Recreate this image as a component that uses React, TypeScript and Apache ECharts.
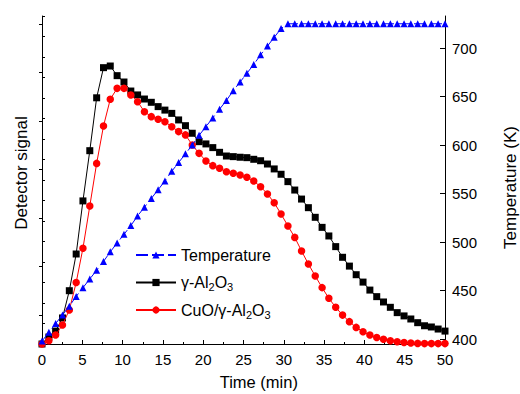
import React, { useEffect, useRef } from "react";
import * as echarts from "echarts";

const timeMin = [0, 0.85, 1.69, 2.54, 3.39, 4.24, 5.08, 5.93, 6.78, 7.63, 8.47, 9.32, 10.17, 11.02, 11.86, 12.71, 13.56, 14.41, 15.25, 16.1, 16.95, 17.8, 18.64, 19.49, 20.34, 21.19, 22.03, 22.88, 23.73, 24.58, 25.42, 26.27, 27.12, 27.97, 28.81, 29.66, 30.51, 31.36, 32.2, 33.05, 33.9, 34.75, 35.59, 36.44, 37.29, 38.14, 38.98, 39.83, 40.68, 41.53, 42.37, 43.22, 44.07, 44.92, 45.76, 46.61, 47.46, 48.31, 49.15, 50.0];

const alSignal = [0, 0.34, 0.63, 1.27, 2.6, 4.39, 6.98, 9.43, 12.01, 13.48, 13.56, 13.09, 12.78, 12.34, 12.15, 11.95, 11.79, 11.58, 11.41, 11.25, 10.93, 10.65, 10.28, 9.87, 9.76, 9.58, 9.35, 9.17, 9.14, 9.11, 9.09, 9.01, 8.94, 8.78, 8.54, 8.28, 7.92, 7.51, 7.07, 6.65, 6.18, 5.69, 5.27, 4.75, 4.23, 3.8, 3.38, 3.02, 2.63, 2.31, 2.05, 1.79, 1.53, 1.37, 1.22, 1.04, 0.89, 0.83, 0.73, 0.63];

const cuoSignal = [0, 0.16, 0.44, 0.93, 1.66, 3.0, 4.67, 6.73, 8.81, 10.63, 11.94, 12.47, 12.47, 12.15, 11.82, 11.33, 11.09, 10.96, 10.84, 10.6, 10.36, 10.2, 9.71, 9.3, 8.93, 8.7, 8.57, 8.4, 8.33, 8.24, 8.13, 7.95, 7.67, 7.32, 6.89, 6.34, 5.76, 5.2, 4.54, 3.9, 3.32, 2.75, 2.23, 1.79, 1.41, 1.09, 0.81, 0.6, 0.44, 0.32, 0.23, 0.16, 0.11, 0.07, 0.05, 0.03, 0.02, 0.02, 0.02, 0.02];

const temperatureK = [398, 407, 416, 425, 434, 444, 453, 462, 471, 480, 490, 499, 508, 517, 527, 536, 545, 554, 563, 573, 582, 591, 600, 610, 619, 628, 637, 646, 656, 665, 674, 683, 693, 702, 711, 720, 725, 725, 725, 725, 725, 725, 725, 725, 725, 725, 725, 725, 725, 725, 725, 725, 725, 725, 725, 725, 725, 725, 725, 725];

const seriesNames = ["Temperature", "γ-Al2O3", "CuO/γ-Al2O3"];
const tempMajorTicks = [400, 450, 500, 550, 600, 650, 700];
const tempMinorTicks = [425, 475, 525, 575, 625, 675, 725];

const FONT = "Liberation Sans, Arial, Helvetica, sans-serif";

const pairs = (vals: number[]) => timeMin.map((t, i) => [t, vals[i]]);

export default function App() {
  const ref = useRef<HTMLDivElement>(null);
  useEffect(() => {
    if (!ref.current) return;
    const chart = echarts.init(ref.current, null, { renderer: "svg" });
    const axisLine = { show: true, onZero: false, lineStyle: { color: "#000", width: 1 } };
    chart.setOption({
      animation: false,
      backgroundColor: "#fff",
      textStyle: { fontFamily: FONT },
      grid: { left: 42, right: 75, top: 16, bottom: 50, containLabel: false },
      legend: {
        orient: "vertical",
        left: 135,
        top: 245,
        padding: 0,
        itemWidth: 40,
        itemHeight: 9,
        itemGap: 7.5,
        data: seriesNames,
        formatter: (name: string) => {
          if (name === "γ-Al2O3") return "γ-Al{sub|2}O{sub|3}";
          if (name === "CuO/γ-Al2O3") return "CuO/γ-Al{sub|2}O{sub|3}";
          return name;
        },
        textStyle: {
          fontFamily: FONT,
          fontSize: 16,
          color: "#000",
          lineHeight: 20,
          rich: {
            sub: { fontFamily: FONT, fontSize: 11, color: "#000", verticalAlign: "bottom", lineHeight: 14 },
          },
        },
      },
      xAxis: {
        type: "value",
        min: 0,
        max: 50,
        interval: 5,
        axisLine,
        axisTick: { show: true, inside: true, length: 4, lineStyle: { color: "#000" } },
        minorTick: { show: true, splitNumber: 2, length: 2, lineStyle: { color: "#000" } },
        axisLabel: { color: "#000", fontSize: 15, fontFamily: FONT, margin: 8 },
        splitLine: { show: false },
      },
      yAxis: [
        {
          type: "value",
          position: "left",
          min: 0,
          max: 16,
          interval: 1,
          axisLine,
          axisTick: { show: true, inside: true, length: 3, lineStyle: { color: "#000" } },
          axisLabel: { show: false },
          splitLine: { show: false },
        },
        {
          type: "value",
          position: "right",
          min: 395,
          max: 733,
          axisLine,
          axisTick: { show: true, inside: true, length: 5, customValues: tempMajorTicks, lineStyle: { color: "#000" } },
          axisLabel: { show: true, color: "#000", fontSize: 15, fontFamily: FONT, margin: 7, customValues: tempMajorTicks },
          splitLine: { show: false },
        },
        {
          type: "value",
          position: "right",
          min: 395,
          max: 733,
          axisLine: { show: false },
          axisTick: { show: true, inside: true, length: 3, customValues: tempMinorTicks, lineStyle: { color: "#000" } },
          axisLabel: { show: false },
          splitLine: { show: false },
        },
      ],
      graphic: [
        {
          type: "text",
          x: 258.8,
          y: 382,
          style: { text: "Time (min)", fontFamily: FONT, fontSize: 16.5, fill: "#000", textAlign: "center", textVerticalAlign: "middle" },
        },
        {
          type: "text",
          x: 21.5,
          y: 173,
          rotation: Math.PI / 2,
          style: { text: "Detector signal", fontFamily: FONT, fontSize: 17, fill: "#000", textAlign: "center", textVerticalAlign: "middle" },
        },
        {
          type: "text",
          x: 510,
          y: 187.5,
          rotation: Math.PI / 2,
          style: { text: "Temperature (K)", fontFamily: FONT, fontSize: 17, fill: "#000", textAlign: "center", textVerticalAlign: "middle" },
        },
      ],
      series: [
        {
          name: "γ-Al2O3",
          type: "line",
          yAxisIndex: 0,
          data: pairs(alSignal),
          symbol: "rect",
          symbolSize: 7,
          itemStyle: { color: "#000" },
          lineStyle: { color: "#000", width: 1 },
          z: 2,
        },
        {
          name: "CuO/γ-Al2O3",
          type: "line",
          yAxisIndex: 0,
          data: pairs(cuoSignal),
          symbol: "circle",
          symbolSize: 7.5,
          itemStyle: { color: "#ff0000" },
          lineStyle: { color: "#ff0000", width: 1 },
          z: 3,
        },
        {
          name: "Temperature",
          type: "line",
          yAxisIndex: 1,
          data: pairs(temperatureK),
          symbol: "triangle",
          symbolSize: 7,
          itemStyle: { color: "#0000ff" },
          lineStyle: { color: "#0000ff", width: 1, type: [12, 4] },
          z: 4,
        },
      ],
    });
    return () => chart.dispose();
  }, []);
  return (
    <div
      ref={ref}
      style={{ position: "fixed", left: 0, top: 0, width: 520, height: 394, background: "#fff" }}
    />
  );
}
